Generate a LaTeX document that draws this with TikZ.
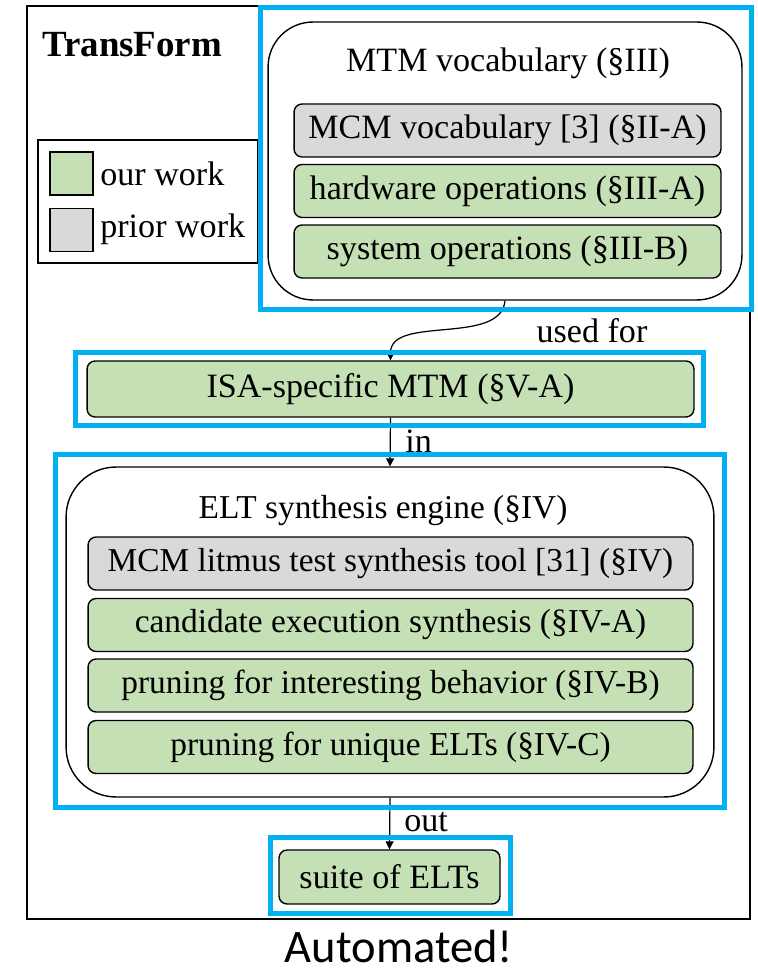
\documentclass[tikz,border=0pt]{standalone}
\usepackage{fontspec}
\setmainfont{Liberation Serif}
\newfontfamily\capfont{Carlito}
\usetikzlibrary{arrows.meta,positioning}
\definecolor{ourgreen}{HTML}{C5E0B4}
\definecolor{priorgray}{HTML}{D9D9D9}
\definecolor{hiblue}{HTML}{00B0F0}

\tikzset{
  workbox/.style={draw=black, line width=0.8pt, rounded corners=0.16cm, minimum height=1.06cm, inner sep=0pt, font=\fontsize{19.4}{24}\selectfont},
  ourbox/.style={workbox, fill=ourgreen},
  priorbox/.style={workbox, fill=priorgray},
  groupbox/.style={draw=black, line width=0.8pt, inner sep=0pt},
  hilite/.style={draw=hiblue, line width=2.8pt},
  lbl/.style={inner sep=0pt, font=\fontsize{19.4}{24}\selectfont},
  eltfont/.style={font=\fontsize{19}{24}\selectfont},
  conn/.style={-{Triangle[width=4.5pt,length=4.5pt]}, line width=0.7pt},
}

\begin{document}
\begin{tikzpicture}[x=0.02cm, y=-0.02cm]
  \useasboundingbox (0,0) rectangle (757,972);

  % outer frame and title
  \draw[line width=0.9pt] (27,6) rectangle (750,919);
  \node[anchor=west, inner sep=0pt, font=\fontsize{21}{25}\selectfont\bfseries] (title) at (42,45) {TransForm};

  % legend
  \draw[line width=0.8pt] (38,140) rectangle (258,263);
  \node[draw, line width=0.8pt, fill=ourgreen, minimum size=0.86cm, inner sep=0pt] (keyour) at (71.5,173.5) {};
  \node[draw, line width=0.8pt, fill=priorgray, minimum size=0.86cm, inner sep=0pt] (keyprior) at (71.5,230) {};
  \node[lbl, anchor=west] (keyourtxt) at (100,174) {our work};
  \node[lbl, anchor=west] (keypriortxt) at (100,229) {prior work};

  % MTM vocabulary
  \node[groupbox, rounded corners=0.9cm, minimum width=9.48cm, minimum height=5.56cm] (mtm) at (505,161) {};
  \node[lbl] (mtmtitle) at (508,63) {MTM vocabulary (\S III)};
  \node[priorbox, minimum width=8.54cm] (mcmvoc) at (507.5,130.5) {MCM vocabulary [3] (\S II-A)};
  \node[ourbox, minimum width=8.54cm] (hwops) at (507.5,191) {hardware operations (\S III-A)};
  \node[ourbox, minimum width=8.54cm] (sysops) at (507.5,251.5) {system operations (\S III-B)};

  % ISA-specific MTM
  \node[ourbox, minimum width=12.14cm, minimum height=1.12cm] (isa) at (390.5,389) {ISA-specific MTM (\S V-A)};

  % ELT synthesis engine
  \node[groupbox, rounded corners=1cm, minimum width=12.96cm, minimum height=6.6cm] (elt) at (390,632) {};
  \node[lbl, eltfont] (elttitle) at (383,511) {ELT synthesis engine (\S IV)};
  \node[priorbox, eltfont, minimum width=12.1cm] (litmus) at (390.5,563.5) {MCM litmus test synthesis tool [31] (\S IV)};
  \node[ourbox, eltfont, minimum width=12.1cm] (cand) at (390.5,625) {candidate execution synthesis (\S IV-A)};
  \node[ourbox, eltfont, minimum width=12.1cm] (prunebeh) at (390.5,685.5) {pruning for interesting behavior (\S IV-B)};
  \node[ourbox, eltfont, minimum width=12.1cm] (pruneuniq) at (390.5,747) {pruning for unique ELTs (\S IV-C)};

  % output
  \node[ourbox, minimum width=4.42cm, minimum height=1.08cm] (suite) at (389.5,877) {suite of ELTs};

  % connectors
  \draw[conn] (mtm.south) to[out=-95, in=90, looseness=0.9] (isa.north);
  \node[lbl] (usedfor) at (592,331) {used for};
  \draw[conn] (isa.south) -- (elt.north);
  \node[lbl, anchor=west] (intxt) at (405,441) {in};
  \draw[conn] (elt.south) -- (suite.north);
  \node[lbl, anchor=west] (outtxt) at (404,822) {out};

  % highlights
  \draw[hilite] (260.5,7.5) rectangle (751.5,309.5);
  \draw[hilite] (75.5,352.5) rectangle (703.5,425.5);
  \draw[hilite] (55.5,454.5) rectangle (724.5,807.5);
  \draw[hilite] (270.5,837.5) rectangle (510.5,913.5);

  \node[inner sep=0pt, font=\capfont\fontsize{26.5}{32}\selectfont] (automated) at (399,946) {Automated!};
\end{tikzpicture}
\end{document}
